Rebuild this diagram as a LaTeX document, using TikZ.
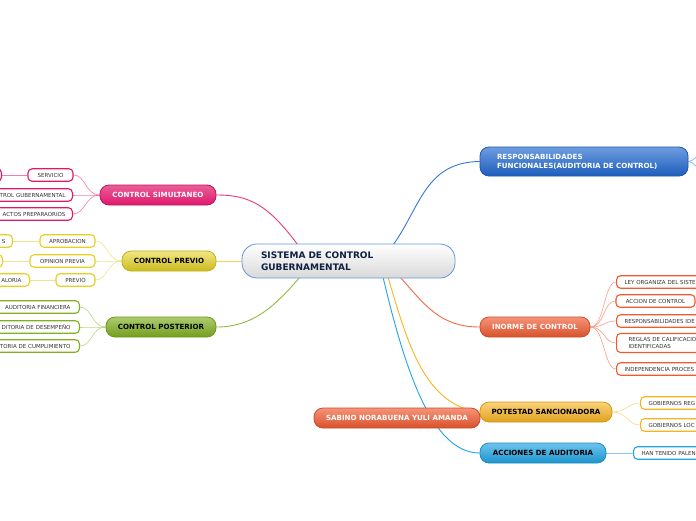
\documentclass[tikz,border=0pt]{standalone}
\usepackage{fontspec}
\setmainfont{DejaVu Sans}
\definecolor{cMag}{HTML}{E0186C}
\definecolor{cMagL}{HTML}{F27DB0}
\definecolor{cYel}{HTML}{E4D020}
\definecolor{cYelL}{HTML}{F0E48A}
\definecolor{cGrn}{HTML}{80B020}
\definecolor{cGrnL}{HTML}{BCD87C}
\definecolor{cBlu}{HTML}{2068D0}
\definecolor{cBluL}{HTML}{7AA8E8}
\definecolor{cOra}{HTML}{F05A30}
\definecolor{cOraL}{HTML}{F8A088}
\definecolor{cPot}{HTML}{F8B420}
\definecolor{cPotL}{HTML}{FAD88A}
\definecolor{cAcc}{HTML}{20A4E4}
\definecolor{cAccL}{HTML}{88CCF0}
\definecolor{cTxt}{HTML}{333333}
\definecolor{cNavy}{HTML}{102040}
\pgfdeclarelayer{background}
\pgfsetlayers{background,main}
\begin{document}
\begin{tikzpicture}[x=1pt,y=-1pt,
  topic/.style={rounded corners=9pt, minimum height=20pt, inner sep=0pt,
    font=\bfseries\fontsize{7.1}{9}\selectfont, line width=0.8pt},
  magtopic/.style={topic, draw=cMag!85!black, top color=cMag!70!white, bottom color=cMag, text=white},
  yeltopic/.style={topic, draw=cYel!85!black, top color=cYel!55!white, bottom color=cYel!90!black, text=black},
  grntopic/.style={topic, draw=cGrn!85!black, top color=cGrn!65!white, bottom color=cGrn!90!black, text=black},
  blutopic/.style={topic, draw=cBlu!85!black, top color=cBlu!65!white, bottom color=cBlu!90!black, text=white},
  oratopic/.style={topic, draw=cOra!85!black, top color=cOra!65!white, bottom color=cOra!90!black, text=white},
  pottopic/.style={topic, draw=cPot!85!black, top color=cPot!60!white, bottom color=cPot!90!black, text=black},
  acctopic/.style={topic, draw=cAcc!85!black, top color=cAcc!65!white, bottom color=cAcc!90!black, text=black},
  leaf/.style={draw, fill=white, rounded corners=4pt, minimum height=12.5pt, inner sep=0pt,
    line width=1.1pt, font=\fontsize{5.5}{6.5}\selectfont, text=cTxt},
  leafR/.style={leaf, anchor=west, text width=110pt, align=left, inner xsep=8pt},
  leafL/.style={leaf, anchor=east, text width=110pt, align=right, inner xsep=7pt},
  link/.style={line width=0.9pt},
  sublink/.style={line width=0.6pt}
]
\useasboundingbox (0,0) rectangle (696,520);

% central
\node[draw=cBlu!70!white, line width=0.8pt, rounded corners=15pt, top color=white, bottom color=black!15,
  minimum width=213pt, minimum height=34pt, text width=175pt, align=left, inner sep=0pt,
  font=\bfseries\fontsize{9}{12}\selectfont, text=cNavy] (central) at (348.5,261)
  {SISTEMA DE CONTROL\\GUBERNAMENTAL};

% main topics
\node[blutopic, minimum width=208pt, minimum height=29pt, text width=174pt, align=left] (resp) at (584,161.5)
  {RESPONSABILIDADES\\FUNCIONALES(AUDITORIA DE CONTROL)};
\node[oratopic, minimum width=110pt] (inf) at (535,327) {INORME DE CONTROL};
\node[pottopic, minimum width=132pt] (pot) at (546,412) {POTESTAD SANCIONADORA};
\node[acctopic, minimum width=126pt] (acc) at (543,453) {ACCIONES DE AUDITORIA};
\node[magtopic, minimum width=116pt] (sim) at (158,195) {CONTROL SIMULTANEO};
\node[yeltopic, minimum width=94pt] (pre) at (169,261) {CONTROL PREVIO};
\node[grntopic, minimum width=110pt] (pos) at (161,327) {CONTROL POSTERIOR};
\node[oratopic, minimum width=166pt] (sab) at (397,418) {SABINO NORABUENA YULI AMANDA};

% leaves right
\node[leafR, draw=cOra] (i1) at (616,282) {LEY ORGANIZA DEL SISTE};
\node[leaf, draw=cOra, minimum width=79pt] (i2) at (655.5,301) {ACCION DE CONTROL};
\node[leafR, draw=cOra] (i3) at (616,321) {RESPONSABILIDADES IDE};
\node[leafR, draw=cOra, minimum height=19pt, inner xsep=12pt] (i4) at (616,343) {REGLAS DE CALIFICACIO\\IDENTIFICADAS};
\node[leafR, draw=cOra] (i5) at (616,369) {INDEPENDENCIA PROCES};
\node[leafR, draw=cPot] (p1) at (640,403) {GOBIERNOS REG};
\node[leafR, draw=cPot] (p2) at (640,425) {GOBIERNOS LOC};
\node[leafR, draw=cAcc] (a1) at (633,453) {HAN TENIDO PALEN};

% leaves left
\node[leaf, draw=cMag, minimum width=45pt] (s1) at (50.5,175) {SERVICIO};
\node[leafL, draw=cMag] (s1a) at (2,175) {};
\node[leafL, draw=cMag] (s2) at (73,195) {TROL GUBERNAMENTAL};
\node[leafL, draw=cMag] (s3) at (73,214) {ACTOS PREPARAORIOS};
\node[leaf, draw=cYel, minimum width=55pt] (c1) at (67.5,241) {APROBACION};
\node[leafL, draw=cYel] (c1a) at (13,241) {S};
\node[leaf, draw=cYel, minimum width=65pt] (c2) at (62.5,261) {OPINION PREVIA};
\node[leafL, draw=cYel] (c2a) at (3,261) {};
\node[leaf, draw=cYel, minimum width=39pt] (c3) at (75.5,280) {PREVIO};
\node[leafL, draw=cYel, inner xsep=8pt] (c3a) at (30,280) {ALORIA};
\node[leafL, draw=cGrn, inner xsep=9pt] (g1) at (80,307) {AUDITORIA FINANCIERA};
\node[leafL, draw=cGrn, inner xsep=9pt] (g2) at (80,327) {DITORIA DE DESEMPEÑO};
\node[leafL, draw=cGrn, inner xsep=9pt] (g3) at (80,346) {TORIA DE CUMPLIMIENTO};

% connector anchor points
\coordinate (oPink) at (298,245);
\coordinate (oBlue) at (393,245);
\coordinate (oGrn) at (300,277);
\coordinate (oOra) at (400,277);
\coordinate (oPot) at (388,277);
\coordinate (oAcc) at (383,277);
\coordinate (rt1) at (702,154);
\coordinate (rt2) at (702,170);

\begin{pgfonlayer}{background}
\fill[white] (0,0) rectangle (696,520);
\draw[link, cMag!85!white] (oPink) .. controls (268,205) and (250,195) .. (sim.east);
\draw[link, cYel!80!white] (central.west) -- (pre.east);
\draw[link, cGrn!85!white] (oGrn) .. controls (272,310) and (250,327) .. (pos.east);
\draw[link, cBlu!90!white] (oBlue) .. controls (420,208) and (425,162) .. (resp.west);
\draw[link, cOra!90!white] (oOra) .. controls (425,305) and (440,327) .. (inf.west);
\draw[link, cPot] (oPot) .. controls (408,345) and (425,405) .. (pot.west);
\draw[link, cAcc] (oAcc) .. controls (405,370) and (432,453) .. (acc.west);
% right leaves
\foreach \n in {i1,i2,i3,i4,i5}
  \draw[sublink, cOraL] (inf.east) .. controls +(14,0) and +(-12,0) .. (\n.west);
\foreach \n in {p1,p2}
  \draw[sublink, cPotL] (pot.east) .. controls +(14,0) and +(-12,0) .. (\n.west);
\draw[sublink, cAccL] (acc.east) -- (a1.west);
\draw[sublink, cBluL] (resp.east) .. controls +(5,0) and +(-4,0) .. (rt1);
\draw[sublink, cBluL] (resp.east) .. controls +(5,0) and +(-4,0) .. (rt2);
% left leaves
\foreach \n in {s1,s2,s3}
  \draw[sublink, cMagL] (sim.west) .. controls +(-14,0) and +(12,0) .. (\n.east);
\draw[sublink, cMagL] (s1.west) -- (s1a.east);
\foreach \n in {c1,c2,c3}
  \draw[sublink, cYelL] (pre.west) .. controls +(-14,0) and +(12,0) .. (\n.east);
\draw[sublink, cYelL] (c1.west) -- (c1a.east);
\draw[sublink, cYelL] (c2.west) -- (c2a.east);
\draw[sublink, cYelL] (c3.west) -- (c3a.east);
\foreach \n in {g1,g2,g3}
  \draw[sublink, cGrnL] (pos.west) .. controls +(-14,0) and +(12,0) .. (\n.east);
\end{pgfonlayer}
\end{tikzpicture}
\end{document}
